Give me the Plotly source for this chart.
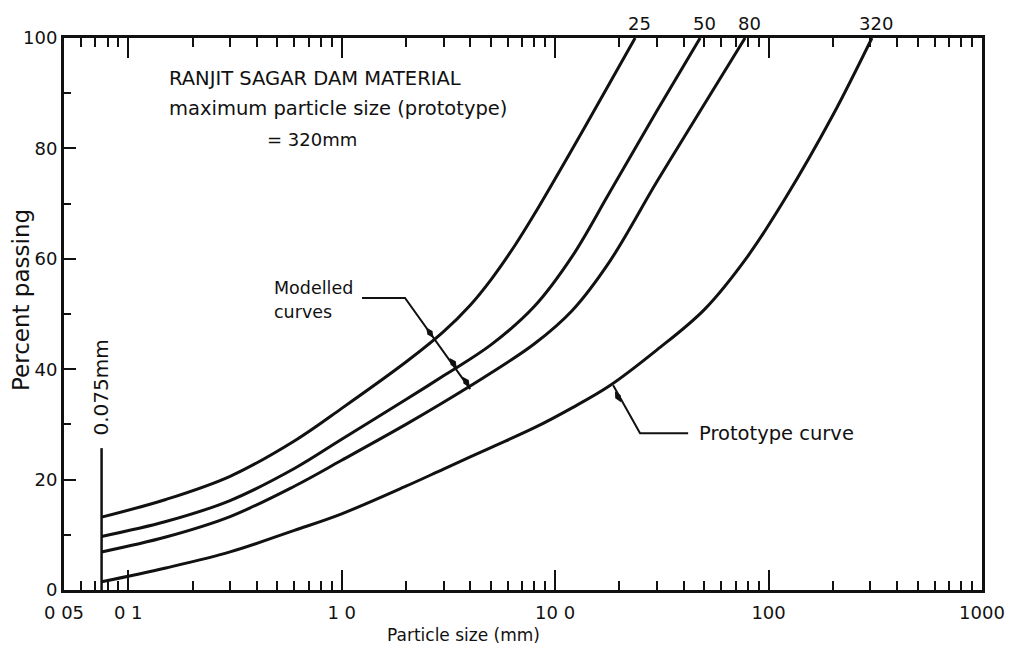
import math
import plotly.graph_objects as go

# grading curves (particle size in mm, percent passing)
size_25 = [0.075, 0.15, 0.3, 0.6, 1.0, 2.0, 3.0, 4.0, 5.0, 6.5, 8.0, 12.0, 18.0, 23.7]
pct_25 = [13.2, 16.4, 20.6, 27.0, 32.9, 41.3, 46.8, 51.6, 56.2, 62.5, 68.1, 79.8, 91.8, 100]

size_50 = [0.075, 0.15, 0.3, 0.6, 1.0, 2.0, 3.0, 5.0, 8.0, 12.0, 18.0, 30.0, 47.8]
pct_50 = [9.7, 12.4, 16.2, 22.0, 27.3, 34.5, 38.8, 44.4, 51.4, 60.4, 72.0, 86.8, 100]

size_80 = [0.075, 0.15, 0.3, 0.6, 1.0, 2.0, 3.0, 5.0, 8.0, 12.0, 18.0, 30.0, 50.0, 77.6]
pct_80 = [6.9, 9.6, 13.3, 18.8, 23.5, 30.0, 34.0, 39.3, 44.6, 50.6, 59.5, 74.0, 88.0, 100]

size_320 = [0.075, 0.15, 0.3, 0.6, 1.0, 2.0, 3.0, 5.0, 8.0, 12.0, 18.0, 30.0, 50.0, 80.0, 120.0, 200.0, 305.0]
pct_320 = [1.5, 4.0, 6.9, 10.8, 13.8, 18.8, 21.9, 25.8, 29.4, 33.0, 37.0, 43.5, 50.8, 60.5, 71.0, 86.0, 100]

curve_labels = ["25", "50", "80", "320"]
curve_ends = [23.7, 47.8, 77.6, 305]

x_tickvals = [0.05, 0.1, 1, 10, 100, 1000]
x_ticktext = ["0 05", "0 1", "1 0", "10 0", "100", "1000"]
x_minor = [0.06, 0.07, 0.08, 0.09] + [m * d for d in (0.1, 1, 10, 100) for m in range(2, 10)]
y_tickvals = [0, 20, 40, 60, 80, 100]
y_minor = [10, 30, 50, 70, 90]

# leader lines (data coords)
modelled_leader_x = [1.245, 1.98, 4.0]
modelled_leader_y = [52.9, 52.9, 36.4]
modelled_arrow_x = [2.59, 3.33, 3.83]
modelled_arrow_y = [46.6, 41.1, 37.7]
proto_leader_x = [18.7, 25.0, 42.0]
proto_leader_y = [37.1, 28.4, 28.4]
proto_arrow_x = [19.7]
proto_arrow_y = [35.0]

FONT = "DejaVu Sans, Verdana, sans-serif"
INK = "#111111"

# page has an 8px body margin, so the figure is drawn 8px smaller
W, H = 1005, 647
L, R, T, B = 56, 31, 30, 65
PW, PH = W - L - R, H - T - B


def lx(v):
    # annotations on a log axis take log10 positions
    return math.log10(v)


def px(x, y):
    # figure pixel -> paper fraction
    return (x - L) / PW, 1 - (y - T) / PH


fig = go.Figure()

for xs, ys in [(size_25, pct_25), (size_50, pct_50), (size_80, pct_80), (size_320, pct_320)]:
    fig.add_trace(go.Scatter(x=xs, y=ys, mode="lines",
                             line=dict(color=INK, width=3, shape="spline", smoothing=1.0),
                             showlegend=False, hoverinfo="skip"))

# 0.075 mm marker line
fig.add_trace(go.Scatter(x=[0.075, 0.075], y=[0, 25.7], mode="lines",
                         line=dict(color=INK, width=2.5), showlegend=False, hoverinfo="skip"))

# leaders
fig.add_trace(go.Scatter(x=modelled_leader_x, y=modelled_leader_y, mode="lines",
                         line=dict(color=INK, width=2), showlegend=False, hoverinfo="skip"))
fig.add_trace(go.Scatter(x=proto_leader_x, y=proto_leader_y, mode="lines",
                         line=dict(color=INK, width=2), showlegend=False, hoverinfo="skip"))

# arrow ticks where leaders meet curves
fig.add_trace(go.Scatter(x=modelled_arrow_x, y=modelled_arrow_y, mode="markers",
                         marker=dict(symbol="diamond-tall", size=9, color=INK, angle=-35),
                         showlegend=False, hoverinfo="skip"))
fig.add_trace(go.Scatter(x=proto_arrow_x, y=proto_arrow_y, mode="markers",
                         marker=dict(symbol="diamond-tall", size=9, color=INK, angle=-29),
                         showlegend=False, hoverinfo="skip"))

xt_x, xt_y = px(455, 627)
yt_x, yt_y = px(13, 292)

annotations = [
    dict(x=lx(0.075), y=36.6, text="0.075mm", textangle=-90, showarrow=False,
         font=dict(size=20), xshift=-1),
    dict(x=lx(0.152), y=92.6, text="RANJIT SAGAR DAM MATERIAL", xanchor="left", showarrow=False,
         font=dict(size=19.5)),
    dict(x=lx(0.152), y=87.3, text="maximum particle size (prototype)", xanchor="left", showarrow=False,
         font=dict(size=19.5)),
    dict(x=lx(0.437), y=81.6, text="= 320mm", xanchor="left", showarrow=False,
         font=dict(size=18)),
    dict(x=lx(0.472), y=54.7, text="Modelled", xanchor="left", showarrow=False,
         font=dict(size=17.5)),
    dict(x=lx(0.472), y=50.4, text="curves", xanchor="left", showarrow=False,
         font=dict(size=17.5)),
    dict(x=lx(46.2), y=28.4, text="Prototype curve", xanchor="left", showarrow=False,
         font=dict(size=19.5)),
    dict(x=xt_x, xref="paper", y=xt_y, yref="paper", text="Particle size (mm)", showarrow=False,
         xanchor="center", yanchor="middle", font=dict(size=17)),
    dict(x=yt_x, xref="paper", y=yt_y, yref="paper", text="Percent passing", textangle=-90,
         showarrow=False, xanchor="center", yanchor="middle", font=dict(size=23)),
]
for lab, xe in zip(curve_labels, curve_ends):
    annotations.append(dict(x=lx(xe), y=1.0, yref="paper", text=lab, showarrow=False,
                            yanchor="bottom", yshift=2, xshift=4, font=dict(size=18)))

fig.update_layout(
    width=W, height=H,
    margin=dict(l=L, r=R, t=T, b=B),
    paper_bgcolor="white", plot_bgcolor="white",
    font=dict(family=FONT, color=INK),
    annotations=annotations,
    showlegend=False,
)

fig.update_xaxes(
    type="log", range=[math.log10(0.05), 3], automargin=False,
    tickmode="array", tickvals=x_tickvals, ticktext=x_ticktext,
    ticks="inside", ticklen=20, tickwidth=2, tickcolor=INK,
    minor=dict(tickmode="array", tickvals=x_minor, ticks="inside", ticklen=9,
               tickwidth=2, tickcolor=INK, showgrid=False),
    showline=True, linecolor=INK, linewidth=3, mirror="ticks",
    showgrid=False, zeroline=False, ticklabelstandoff=4,
    tickfont=dict(size=18),
)
fig.update_yaxes(
    range=[0, 100], automargin=False,
    tickmode="array", tickvals=y_tickvals,
    ticks="inside", ticklen=12, tickwidth=2, tickcolor=INK,
    minor=dict(tickmode="array", tickvals=y_minor, ticks="inside", ticklen=7,
               tickwidth=2, tickcolor=INK, showgrid=False),
    showline=True, linecolor=INK, linewidth=3, mirror=True,
    showgrid=False, zeroline=False,
    tickfont=dict(size=18),
)

fig.write_html("out.html")
